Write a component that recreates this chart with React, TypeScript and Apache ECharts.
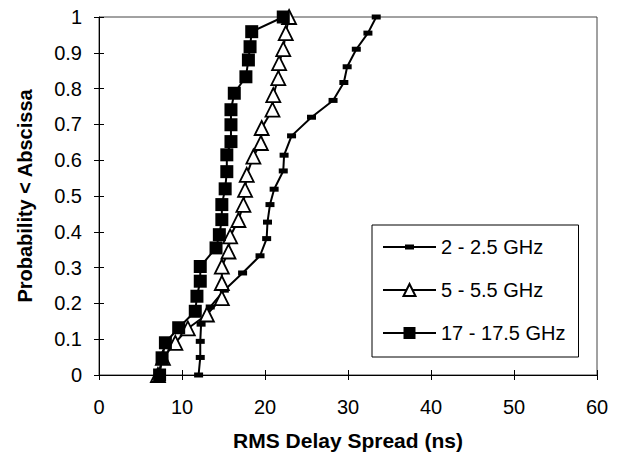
import React, { useEffect, useRef } from "react";
import * as echarts from "echarts";

const seriesNames = ["2 - 2.5 GHz", "5 - 5.5 GHz", "17 - 17.5 GHz"];

const xTickValues = [0, 10, 20, 30, 40, 50, 60];
const yTickValues = [0, 0.1, 0.2, 0.3, 0.4, 0.5, 0.6, 0.7, 0.8, 0.9, 1];

const lowX = [12.0, 12.2, 12.2, 12.3, 13.4, 15.1, 17.3, 19.4, 20.2, 20.3, 20.6, 21.1, 22.2, 22.3, 23.2, 25.6, 28.2, 29.5, 29.9, 31.0, 32.4, 33.4];
const lowY = [0, 0.049, 0.094, 0.142, 0.19, 0.237, 0.285, 0.333, 0.381, 0.427, 0.476, 0.519, 0.57, 0.614, 0.668, 0.72, 0.767, 0.817, 0.861, 0.91, 0.955, 1.0];

const midX = [7.1, 7.7, 9.2, 10.7, 13.0, 14.8, 14.8, 14.8, 15.6, 15.8, 16.8, 17.4, 17.6, 17.8, 18.6, 19.5, 19.6, 20.9, 21.0, 21.6, 21.7, 22.2, 22.5, 22.9];
const midY = [0, 0.048, 0.09, 0.13, 0.169, 0.215, 0.257, 0.303, 0.345, 0.387, 0.433, 0.475, 0.517, 0.559, 0.61, 0.648, 0.69, 0.741, 0.782, 0.829, 0.871, 0.91, 0.955, 1.0];

const highX = [7.3, 7.6, 8.0, 9.6, 11.6, 11.8, 12.2, 12.2, 14.1, 14.5, 14.8, 14.8, 15.2, 15.4, 15.4, 15.9, 15.9, 15.9, 16.3, 17.7, 18.0, 18.2, 18.4, 22.2];
const highY = [0, 0.048, 0.09, 0.132, 0.178, 0.22, 0.262, 0.303, 0.355, 0.392, 0.434, 0.476, 0.52, 0.568, 0.615, 0.652, 0.699, 0.741, 0.787, 0.833, 0.88, 0.917, 0.959, 1.0];

const FONT = "'Liberation Sans', Arial, Helvetica, sans-serif";

function pairs(xs: number[], ys: number[]) {
  return xs.map((x, i) => [x, ys[i]]);
}

export default function App() {
  const ref = useRef<HTMLDivElement>(null);
  useEffect(() => {
    if (!ref.current) return;
    const chart = echarts.init(ref.current, null, { renderer: "svg" });
    const xMin = xTickValues[0];
    const xMax = xTickValues[xTickValues.length - 1];
    const xInt = xTickValues[1] - xTickValues[0];
    const yMin = yTickValues[0];
    const yMax = yTickValues[yTickValues.length - 1];
    const yInt = 0.1;
    const axisCommon = {
      type: "value" as const,
      splitLine: { show: false },
      axisLine: { show: true, onZero: false, lineStyle: { color: "#000", width: 1 } },
    };
    chart.setOption({
      animation: false,
      backgroundColor: "#fff",
      grid: {
        left: 99,
        right: 23,
        top: 17,
        bottom: 91,
        show: true,
        borderColor: "#444",
        borderWidth: 1,
        backgroundColor: "transparent",
      },
      legend: {
        orient: "vertical",
        left: 372,
        top: 225,
        padding: [12, 13, 14, 10],
        itemGap: 23,
        itemWidth: 53,
        itemHeight: 15,
        borderColor: "#000",
        borderWidth: 1,
        borderRadius: 0,
        backgroundColor: "#fff",
        textStyle: { fontFamily: FONT, fontSize: 20, color: "#000", lineHeight: 20 },
        data: [
          { name: seriesNames[0], icon: "path://M0,6L53,6L53,8L0,8Z M22,4.5L31,4.5L31,9.5L22,9.5Z" },
          { name: seriesNames[1] },
          { name: seriesNames[2] },
        ],
      },
      xAxis: [
        {
          ...axisCommon,
          min: xMin,
          max: xMax,
          interval: xInt,
          name: "RMS Delay Spread (ns)",
          nameLocation: "middle",
          nameGap: 55,
          nameTextStyle: { fontFamily: FONT, fontSize: 21, fontWeight: "bold", color: "#000" },
          axisTick: { show: true, inside: false, length: 5, lineStyle: { color: "#000" } },
          axisLabel: { margin: 22, fontFamily: FONT, fontSize: 20, color: "#000" },
        },
        {
          ...axisCommon,
          min: xMin,
          max: xMax,
          interval: xInt,
          position: "bottom",
          axisLine: { show: false },
          axisTick: { show: true, inside: true, length: 5, lineStyle: { color: "#000" } },
          axisLabel: { show: false },
        },
      ],
      yAxis: [
        {
          ...axisCommon,
          min: yMin,
          max: yMax,
          interval: yInt,
          name: "Probability < Abscissa",
          nameLocation: "middle",
          nameGap: 64,
          nameTextStyle: { fontFamily: FONT, fontSize: 20, fontWeight: "bold", color: "#000" },
          axisTick: { show: true, inside: false, length: 5, lineStyle: { color: "#000" } },
          axisLabel: { margin: 17, fontFamily: FONT, fontSize: 20, color: "#000" },
        },
        {
          ...axisCommon,
          min: yMin,
          max: yMax,
          interval: yInt,
          position: "left",
          axisLine: { show: false },
          axisTick: { show: true, inside: true, length: 5, lineStyle: { color: "#000" } },
          axisLabel: { show: false },
        },
      ],
      series: [
        {
          name: seriesNames[0],
          type: "line",
          data: pairs(lowX, lowY),
          symbol: "rect",
          symbolSize: [9, 5],
          lineStyle: { color: "#000", width: 2 },
          itemStyle: { color: "#000" },
        },
        {
          name: seriesNames[1],
          type: "line",
          data: pairs(midX, midY),
          symbol: "triangle",
          symbolSize: 14,
          lineStyle: { color: "#000", width: 2 },
          itemStyle: { color: "#fff", borderColor: "#000", borderWidth: 1.8 },
        },
        {
          name: seriesNames[2],
          type: "line",
          data: pairs(highX, highY),
          symbol: "rect",
          symbolSize: 13,
          lineStyle: { color: "#000", width: 2 },
          itemStyle: { color: "#000" },
        },
      ],
    });
    return () => chart.dispose();
  }, []);
  return (
    <div
      ref={ref}
      style={{ position: "fixed", left: 0, top: 0, width: 620, height: 466, background: "#fff" }}
    />
  );
}
